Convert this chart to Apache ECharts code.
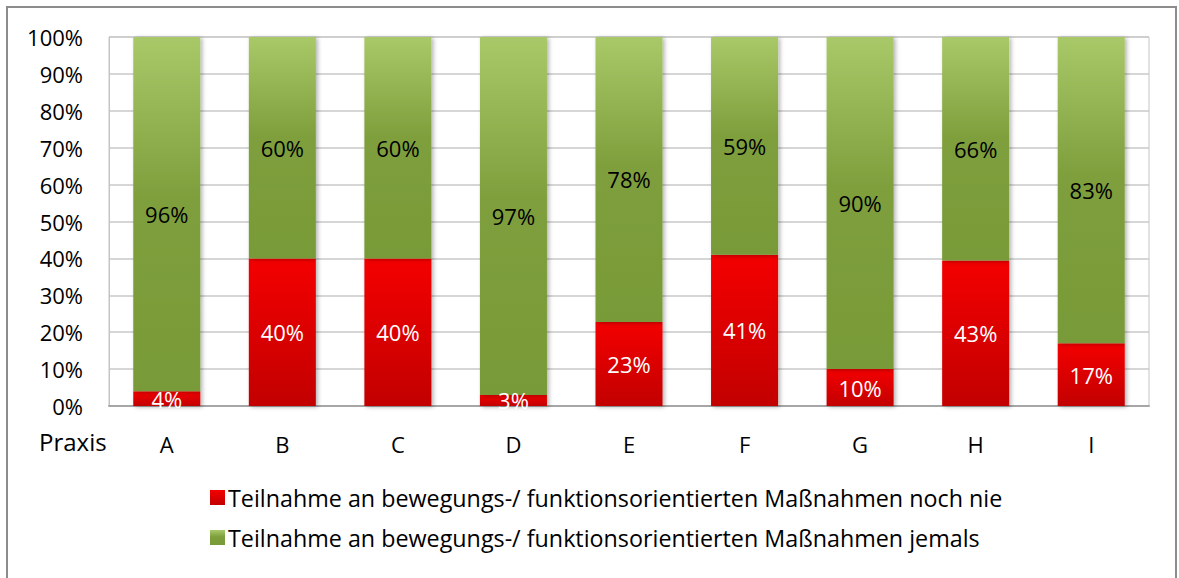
<!DOCTYPE html>
<html>
<head>
<meta charset="utf-8">
<script src="https://cdn.jsdelivr.net/npm/echarts@6/dist/echarts.min.js"></script>
<style>
  html, body { margin: 0; padding: 0; background: #fff; }
  #main { width: 1179px; height: 578px; }
</style>
</head>
<body>
<div id="main"></div>
<script>
// Praxis A..I, share of participants (as labelled in the picture)
var categories = ["A", "B", "C", "D", "E", "F", "G", "H", "I"];
var nochNie = [4, 40, 40, 3, 23, 41, 10, 43, 17];
var jemals = [96, 60, 60, 97, 78, 59, 90, 66, 83];
var yTicks = [0, 10, 20, 30, 40, 50, 60, 70, 80, 90, 100];

var seriesNames = [
  "Teilnahme an bewegungs-/ funktionsorientierten Maßnahmen noch nie",
  "Teilnahme an bewegungs-/ funktionsorientierten Maßnahmen jemals"
];

// 100%-gestapelt: each bar is scaled to its own total
function share(arr, i) {
  return arr[i] / (nochNie[i] + jemals[i]) * 100;
}
var redData = categories.map(function (c, i) { return { value: share(nochNie, i), raw: nochNie[i] }; });
var greenData = categories.map(function (c, i) { return { value: share(jemals, i), raw: jemals[i] }; });

var font = "'Open Sans', sans-serif";
var fs = 22;

var chart = echarts.init(document.getElementById("main"), null, { renderer: "svg" });

var option = {
  animation: false,
  textStyle: { fontFamily: font },
  graphic: [
    {
      type: "rect",
      shape: { x: 7, y: 7, width: 1169, height: 600 },
      style: { fill: "none", stroke: "#8c8c8c", lineWidth: 2 },
      silent: true
    },
    {
      type: "text",
      left: 39,
      top: 429,
      style: { text: "Praxis", fontSize: 24, fontFamily: font, fill: "#000" }
    }
  ],
  grid: {
    left: 109, right: 30, top: 37, bottom: 172,
    show: true, borderColor: "#c4c4c4", borderWidth: 1
  },
  legend: {
    orient: "vertical",
    left: 205,
    top: 481,
    itemGap: 17,
    itemWidth: 15,
    itemHeight: 15,
    icon: "rect",
    textStyle: { fontSize: 23.3, fontFamily: font, color: "#000", padding: [0, 0, 0, -2] },
    data: seriesNames
  },
  xAxis: {
    type: "category",
    data: categories,
    axisTick: { show: false },
    axisLine: { lineStyle: { color: "#a6a6a6", width: 2 } },
    axisLabel: { fontSize: fs, color: "#000", margin: 27, fontFamily: font }
  },
  yAxis: {
    type: "value",
    min: 0,
    max: 100,
    interval: 10,
    axisLine: { show: true, lineStyle: { color: "#c4c4c4" } },
    axisTick: { show: false },
    splitLine: { lineStyle: { color: "#c8c8c8", width: 1.5 } },
    axisLabel: {
      fontSize: fs, color: "#000", margin: 26, fontFamily: font,
      formatter: function (v) { return yTicks.indexOf(v) >= 0 ? v + "%" : ""; }
    }
  },
  series: [
    {
      name: seriesNames[0],
      type: "bar",
      stack: "total",
      barWidth: "58%",
      data: redData,
      itemStyle: {
        color: new echarts.graphic.LinearGradient(0, 0, 0, 1, [
          { offset: 0, color: "#f40000" },
          { offset: 1, color: "#c20000" }
        ]),
        shadowColor: "rgba(0,0,0,0.3)",
        shadowBlur: 4,
        shadowOffsetX: 2,
        shadowOffsetY: 1
      },
      label: {
        show: true,
        position: "inside",
        color: "#fff",
        fontSize: fs,
        fontFamily: font,
        formatter: function (p) { return p.data.raw + "%"; }
      }
    },
    {
      name: seriesNames[1],
      type: "bar",
      stack: "total",
      barWidth: "58%",
      data: greenData,
      itemStyle: {
        color: new echarts.graphic.LinearGradient(0, 0, 0, 1, [
          { offset: 0, color: "#a9c868" },
          { offset: 0.45, color: "#7f9f3d" },
          { offset: 1, color: "#789a37" }
        ]),
        shadowColor: "rgba(0,0,0,0.3)",
        shadowBlur: 4,
        shadowOffsetX: 2,
        shadowOffsetY: 1
      },
      label: {
        show: true,
        position: "inside",
        color: "#000",
        fontSize: fs,
        fontFamily: font,
        formatter: function (p) { return p.data.raw + "%"; }
      }
    }
  ]
};

chart.setOption(option);
</script>
</body>
</html>
